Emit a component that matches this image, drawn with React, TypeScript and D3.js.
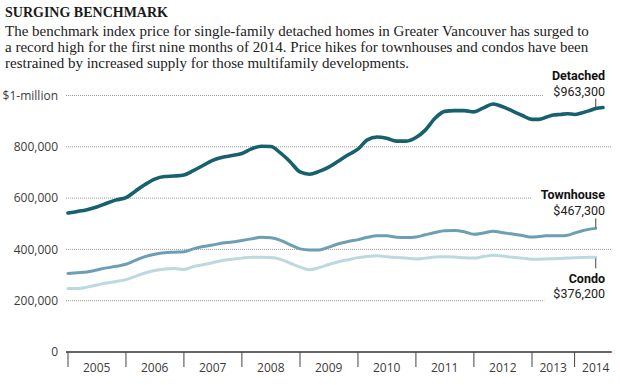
import * as d3 from "d3";
import {useEffect, useRef} from "react";

// bi-monthly readings, Jan 2005 .. Sep 2014 (values in $ thousands)
const dates = d3.timeMonth.range(new Date(2005, 0, 1), new Date(2014, 9, 1), 2);

const detached = [
    542, 548, 555, 565, 580, 593, 602, 627, 653, 674,
    684, 686, 690, 707, 727, 747, 759, 766, 774, 792,
    802, 801, 775, 741, 702, 693, 704, 721, 745, 769,
    791, 827, 838, 833, 822, 822, 836, 865, 911, 938,
    941, 941, 936, 952, 967, 956, 939, 922, 907, 907,
    915, 924, 926, 929, 926, 932, 940, 949, 953
];
const townhouse = [
    306, 309, 312, 320, 328, 334, 342, 357, 372, 381,
    387, 389, 391, 402, 411, 417, 425, 429, 435, 441,
    447, 445, 435, 418, 402, 398, 398, 409, 422, 431,
    438, 447, 453, 453, 447, 446, 448, 457, 466, 473,
    474, 469, 459, 464, 471, 465, 460, 454, 448, 450,
    453, 453, 453, 455, 464, 472, 478, 482
];
const condo = [
    248, 248, 253, 261, 269, 275, 282, 295, 308, 318,
    324, 326, 322, 333, 340, 348, 357, 362, 366, 369,
    369, 368, 361, 346, 331, 321, 329, 341, 352, 360,
    368, 372, 375, 371, 368, 366, 363, 366, 370, 371,
    370, 367, 366, 372, 377, 374, 369, 366, 362, 362,
    363, 364, 365, 366, 367, 368, 369, 369
];

const years = [2005, 2006, 2007, 2008, 2009, 2010, 2011, 2012, 2013, 2014];
const yTicks = [0, 200, 400, 600, 800, 1000];
const yTickLabels = ["0", "200,000", "400,000", "600,000", "800,000", "$1-million"];

const title = "SURGING BENCHMARK";
const intro = [
    "The benchmark index price for single-family detached homes in Greater Vancouver has surged to",
    "a record high for the first nine months of 2014. Price hikes for townhouses and condos have been",
    "restrained by increased supply for those multifamily developments."
];

const series = [
    {name: "Condo", label: "$376,200", values: condo, color: "#bcd8e1", width: 3, leader: 1},
    {name: "Townhouse", label: "$467,300", values: townhouse, color: "#6c9fb4", width: 3, leader: -1},
    {name: "Detached", label: "$963,300", values: detached, color: "#17606d", width: 3.6, leader: -1},
];

const W = 620, H = 385;

function Chart() {
    const svgRef = useRef(null);

    useEffect(() => {
        const svg = d3.select(svgRef.current);
        svg.selectAll("*").remove();

        const x = d3.scaleTime()
            .domain([new Date(2005, 0, 1), new Date(2013, 0, 1), new Date(2014, 8, 1)])
            .range([68, 532, 603]);
        const axisEnd = x(new Date(2014, 10, 15));
        const axisStart = x(dates[0]) - 2;

        const y = d3.scaleLinear()
            .domain([0, 1000])
            .range([352, 95.5]);

        // title + intro
        svg.append("text")
            .attr("x", 5).attr("y", 17)
            .attr("font-family", "'Liberation Serif', serif")
            .attr("font-weight", "bold")
            .attr("font-size", 14)
            .attr("fill", "#1a1a1a")
            .text(title);
        svg.selectAll(".intro")
            .data(intro)
            .enter()
            .append("text")
            .attr("x", 5)
            .attr("y", (d, i) => 36 + i * 16)
            .attr("font-family", "'Liberation Serif', serif")
            .attr("font-size", 15)
            .attr("fill", "#222")
            .text(d => d);

        const gGrid = svg.append("g");
        const gLines = svg.append("g");
        const gLabels = svg.append("g");

        // end labels
        const last = 57;
        const labelBoxes = [];
        series.forEach(s => {
            const px = x(dates[last]);
            const py = y(s.values[last]);
            let nameY, valY, l1, l2;
            if (s.leader < 0) {
                l2 = py - 1;
                l1 = py - 10;
                valY = l1 - 3;
                nameY = valY - 16;
            } else {
                l1 = py + 1;
                l2 = py + 11;
                nameY = l2 + 15;
                valY = nameY + 15;
            }
            gLines.append("line")
                .attr("x1", px).attr("x2", px)
                .attr("y1", l1).attr("y2", l2)
                .attr("stroke", "#444")
                .attr("stroke-width", 1);
            const g = gLabels.append("g")
                .attr("font-family", "Roboto, sans-serif")
                .attr("text-anchor", "end")
                .attr("fill", "#111");
            g.append("text")
                .attr("x", 605).attr("y", nameY)
                .attr("font-size", 12.5)
                .attr("font-weight", "bold")
                .text(s.name);
            g.append("text")
                .attr("x", 605).attr("y", valY)
                .attr("font-size", 12.5)
                .attr("fill", "#222")
                .text(s.label);
            const b = g.node().getBBox();
            labelBoxes.push(b);
        });

        // gridlines, cut short where the end labels sit
        yTicks.filter(d => d > 0).forEach(t => {
            const gy = y(t);
            let end = axisEnd;
            labelBoxes.forEach(b => {
                if (gy >= b.y - 3 && gy <= b.y + b.height + 3) end = Math.min(end, b.x - 9);
            });
            gGrid.append("line")
                .attr("x1", axisStart).attr("x2", end)
                .attr("y1", gy).attr("y2", gy)
                .attr("stroke", "#9a9a9a")
                .attr("stroke-width", 1)
                .attr("stroke-dasharray", "1,1");
        });

        gGrid.selectAll(".ytick")
            .data(yTicks)
            .enter()
            .append("text")
            .attr("x", 58)
            .attr("y", d => y(d))
            .attr("dy", "0.35em")
            .attr("text-anchor", "end")
            .attr("font-family", "'Open Sans', sans-serif")
            .attr("font-size", 12)
            .attr("fill", "#3c3c3c")
            .text((d, i) => yTickLabels[i]);

        // x axis
        gGrid.append("line")
            .attr("x1", axisStart).attr("x2", axisEnd)
            .attr("y1", y(0)).attr("y2", y(0))
            .attr("stroke", "#333")
            .attr("stroke-width", 1.3);
        gGrid.selectAll(".xtick")
            .data(years)
            .enter()
            .append("line")
            .attr("x1", d => x(new Date(d, 0, 1)))
            .attr("x2", d => x(new Date(d, 0, 1)))
            .attr("y1", y(0))
            .attr("y2", y(0) + 15)
            .attr("stroke", "#444")
            .attr("stroke-width", 1);
        gGrid.selectAll(".xlabel")
            .data(years)
            .enter()
            .append("text")
            .attr("x", d => x(new Date(d, 6, 1)))
            .attr("y", 372)
            .attr("text-anchor", "middle")
            .attr("font-family", "'Open Sans', sans-serif")
            .attr("font-size", 12)
            .attr("fill", "#3c3c3c")
            .text(d => d);

        // lines
        const line = d3.line()
            .x((d, i) => x(dates[i]))
            .y(d => y(d))
            .curve(d3.curveMonotoneX);

        series.forEach(s => {
            gLines.insert("path", ":first-child")
                .datum(s.values)
                .attr("d", line)
                .attr("fill", "none")
                .attr("stroke", s.color)
                .attr("stroke-width", s.width)
                .attr("stroke-linejoin", "round")
                .attr("stroke-linecap", "round");
        });
    }, []);

    return (
        <svg
            ref={svgRef}
            width={W}
            height={H}
            viewBox={`0 0 ${W} ${H}`}
            style={{position: "absolute", left: 0, top: 0, background: "#fff"}}
        />
    );
}

export default function App() {
    return <Chart/>;
}
